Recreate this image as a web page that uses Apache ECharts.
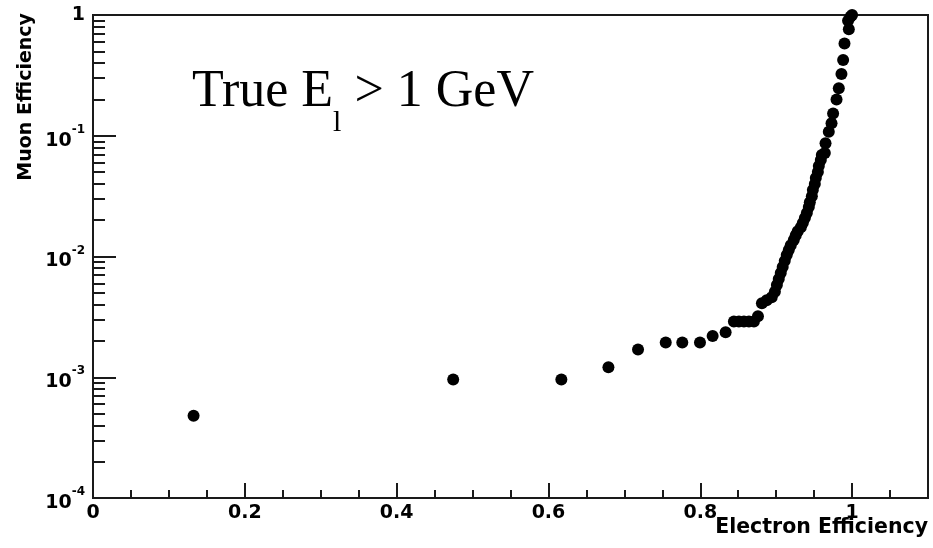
<!DOCTYPE html>
<html><head><meta charset="utf-8">
<script src="https://cdn.jsdelivr.net/npm/echarts@6/dist/echarts.min.js"></script>
<style>html,body{margin:0;padding:0;background:#fff}#c{width:933px;height:548px}</style>
</head><body><div id="c"></div>
<script>
// Electron efficiency (x) vs muon efficiency (y)
const electronEff = [
  0.1325, 0.4745, 0.617, 0.679, 0.718, 0.7545, 0.7763, 0.7996, 0.8163, 0.8334,
  0.8443, 0.8509, 0.8575, 0.8641, 0.8707, 0.876, 0.8812, 0.8875, 0.8941, 0.8983,
  0.9009, 0.9034, 0.906, 0.9086, 0.9113, 0.9139, 0.9166, 0.9192, 0.9232, 0.9258,
  0.9284, 0.9325, 0.9351, 0.9378, 0.9404, 0.943, 0.9443, 0.947, 0.9483, 0.9509,
  0.9522, 0.9549, 0.9562, 0.9588, 0.9601, 0.9641, 0.965, 0.9693, 0.9729, 0.975,
  0.9795, 0.9825, 0.986, 0.9882, 0.99, 0.9957, 0.9947, 0.9979, 1.0
];
const muonEff = [
  0.00048, 0.00096, 0.00096, 0.00121, 0.0017, 0.00194, 0.00194, 0.00194, 0.0022, 0.00236,
  0.0029, 0.0029, 0.0029, 0.0029, 0.0029, 0.0032, 0.0041, 0.00435, 0.0046, 0.0051,
  0.0058, 0.0065, 0.0073, 0.0082, 0.0092, 0.0103, 0.0113, 0.0124, 0.0137, 0.015,
  0.0162, 0.0175, 0.0189, 0.0208, 0.0229, 0.0257, 0.0282, 0.0316, 0.0355, 0.0398,
  0.0447, 0.05, 0.0561, 0.0629, 0.0692, 0.0719, 0.0865, 0.108, 0.127, 0.153,
  0.2, 0.247, 0.324, 0.424, 0.582, 0.761, 0.897, 0.968, 1.0
];
const xMajorTicks = [0, 0.2, 0.4, 0.6, 0.8, 1];
const xMinorTicks = [0.05, 0.1, 0.15, 0.25, 0.3, 0.35, 0.45, 0.5, 0.55, 0.65, 0.7, 0.75, 0.85, 0.9, 0.95, 1.05];
const yMajorTicks = [1e-4, 1e-3, 1e-2, 1e-1, 1];
const yMinorTicks = [
  2e-4, 3e-4, 4e-4, 5e-4, 6e-4, 7e-4, 8e-4, 9e-4,
  2e-3, 3e-3, 4e-3, 5e-3, 6e-3, 7e-3, 8e-3, 9e-3,
  2e-2, 3e-2, 4e-2, 5e-2, 6e-2, 7e-2, 8e-2, 9e-2,
  0.2, 0.3, 0.4, 0.5, 0.6, 0.7, 0.8, 0.9
];
const xTitle = 'Electron Efficiency';
const yTitle = 'Muon Efficiency';

const FONT = 'DejaVu Sans';
const AX = '#1a1a1a';
const chart = echarts.init(document.getElementById('c'), null, {renderer: 'canvas'});
const data = electronEff.map((x, i) => [x, muonEff[i]]);

const option = {
  animation: false,
  backgroundColor: '#fff',
  grid: {left: 93, right: 5, top: 15, bottom: 50, show: true, borderColor: AX, borderWidth: 2, backgroundColor: 'transparent'},
  xAxis: [
    {type: 'value', min: 0, max: 1.1, position: 'bottom',
     axisLine: {show: true, onZero: false, lineStyle: {color: AX, width: 2}},
     axisTick: {show: true, inside: true, length: 15, customValues: xMajorTicks, lineStyle: {color: AX, width: 2}},
     axisLabel: {show: true, customValues: xMajorTicks, formatter: v => String(+(+v).toFixed(1)),
                 fontFamily: FONT, fontWeight: 'bold', fontSize: 19, color: '#000', margin: 6},
     splitLine: {show: false}},
    {type: 'value', min: 0, max: 1.1, position: 'bottom',
     axisLine: {show: false, onZero: false},
     axisTick: {show: true, inside: true, length: 8, customValues: xMinorTicks, lineStyle: {color: AX, width: 2}},
     axisLabel: {show: false}, splitLine: {show: false}}
  ],
  yAxis: [
    {type: 'log', logBase: 10, min: 1e-4, max: 1, position: 'left',
     axisLine: {show: true, onZero: false, lineStyle: {color: AX, width: 2}},
     axisTick: {show: true, inside: true, length: 23, customValues: yMajorTicks, lineStyle: {color: AX, width: 2}},
     axisLabel: {show: true, customValues: yMajorTicks, margin: 8,
       formatter: v => { const e = Math.round(Math.log10(v)); return e === 0 ? '{one|1}' : '{b|10}{s|' + e + '}'; },
       rich: {
         one: {fontFamily: FONT, fontWeight: 'bold', fontSize: 19, color: '#000'},
         b: {fontFamily: FONT, fontWeight: 'bold', fontSize: 19, color: '#000', padding: [10, 0, 0, 0]},
         s: {fontFamily: FONT, fontWeight: 'bold', fontSize: 12, color: '#000', padding: [0, 0, 12, 0]}
       }},
     splitLine: {show: false}},
    {type: 'log', logBase: 10, min: 1e-4, max: 1, position: 'left',
     axisLine: {show: false, onZero: false},
     axisTick: {show: true, inside: true, length: 12, customValues: yMinorTicks, lineStyle: {color: AX, width: 2}},
     axisLabel: {show: false}, splitLine: {show: false}}
  ],
  series: [{
    type: 'scatter', xAxisIndex: 0, yAxisIndex: 0, data: data,
    symbol: 'circle', symbolSize: 12, itemStyle: {color: '#000', opacity: 1}, clip: false
  }],
  graphic: [
    {type: 'text', x: 192, y: 46, z: 10,
     style: {text: '{a|True E}{s|l}{a| > 1 GeV}', verticalAlign: 'top', align: 'left',
       rich: {
         a: {fontFamily: 'Liberation Serif', fontSize: 52, color: '#000'},
         s: {fontFamily: 'Liberation Serif', fontSize: 30, color: '#000', padding: [62, 0, 0, 0]}
       }}},
    {type: 'text', x: 26, y: 13, rotation: Math.PI / 2, z: 10,
     style: {text: yTitle, align: 'right', verticalAlign: 'middle', fontFamily: FONT, fontWeight: 'bold', fontSize: 19, fill: '#000'}},
    {type: 'text', x: 928, y: 528, z: 10,
     style: {text: xTitle, align: 'right', verticalAlign: 'middle', fontFamily: FONT, fontWeight: 'bold', fontSize: 20.5, fill: '#000'}}
  ]
};
chart.setOption(option);
</script>
</body></html>
